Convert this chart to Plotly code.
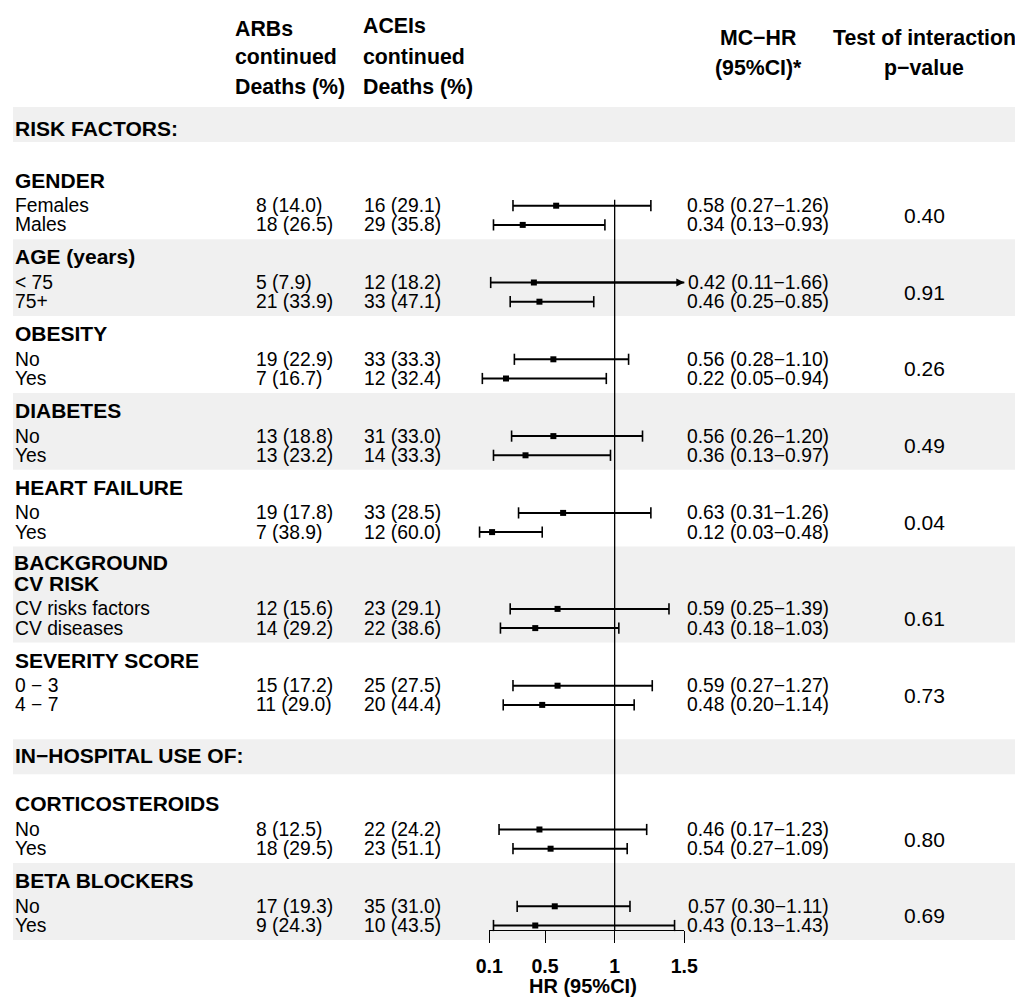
import plotly.graph_objects as go

# ---------------- data ----------------
section_titles = ["RISK FACTORS:", "IN\u2212HOSPITAL USE OF:"]
group_titles = [["GENDER"], ["AGE (years)"], ["OBESITY"], ["DIABETES"], ["HEART FAILURE"],
                ["BACKGROUND", "CV RISK"], ["SEVERITY SCORE"], ["CORTICOSTEROIDS"], ["BETA BLOCKERS"]]
group_section = [0, 0, 0, 0, 0, 0, 0, 1, 1]
subgroups = [["Females", "Males"], ["&lt; 75", "75+"], ["No", "Yes"], ["No", "Yes"], ["No", "Yes"],
             ["CV risks factors", "CV diseases"], ["0 \u2212 3", "4 \u2212 7"], ["No", "Yes"], ["No", "Yes"]]
arb_deaths = [[8, 18], [5, 21], [19, 7], [13, 13], [19, 7], [12, 14], [15, 11], [8, 18], [17, 9]]
arb_pct = [[14.0, 26.5], [7.9, 33.9], [22.9, 16.7], [18.8, 23.2], [17.8, 38.9], [15.6, 29.2],
           [17.2, 29.0], [12.5, 29.5], [19.3, 24.3]]
acei_deaths = [[16, 29], [12, 33], [33, 12], [31, 14], [33, 12], [23, 22], [25, 20], [22, 23], [35, 10]]
acei_pct = [[29.1, 35.8], [18.2, 47.1], [33.3, 32.4], [33.0, 33.3], [28.5, 60.0], [29.1, 38.6],
            [27.5, 44.4], [24.2, 51.1], [31.0, 43.5]]
hr = [[0.58, 0.34], [0.42, 0.46], [0.56, 0.22], [0.56, 0.36], [0.63, 0.12], [0.59, 0.43],
      [0.59, 0.48], [0.46, 0.54], [0.57, 0.43]]
hr_lo = [[0.27, 0.13], [0.11, 0.25], [0.28, 0.05], [0.26, 0.13], [0.31, 0.03], [0.25, 0.18],
         [0.27, 0.20], [0.17, 0.27], [0.30, 0.13]]
hr_hi = [[1.26, 0.93], [1.66, 0.85], [1.10, 0.94], [1.20, 0.97], [1.26, 0.48], [1.39, 1.03],
         [1.27, 1.14], [1.23, 1.09], [1.11, 1.43]]
p_interaction = ["0.40", "0.91", "0.26", "0.49", "0.04", "0.61", "0.73", "0.80", "0.69"]
x_ticks = [0.1, 0.5, 1, 1.5]
x_tick_labels = ["0.1", "0.5", "1", "1.5"]
axis_title = "HR (95%CI)"
header_arb = ["ARBs", "continued", "Deaths (%)"]
header_acei = ["ACEIs", "continued", "Deaths (%)"]
header_hr = ["MC\u2212HR", "(95%CI)*"]
header_p = ["Test of interaction", "p\u2212value"]

# ---------------- layout constants (screen pixels) ----------------
SCREEN_W, SCREEN_H = 1023, 998
BODY = 8                                # default page margin around the figure
W, H = SCREEN_W - BODY, SCREEN_H - BODY  # figure size
FONT = "Liberation Sans, Arial, Helvetica, sans-serif"
ROW = 19.2
X_LABEL, X_ARB, X_ACEI, X_HR, X_P = 13, 254, 362, 758, 924
X_HDR_ARB, X_HDR_ACEI = 233, 361
AX_PX0, AX_PX1 = 489.3, 684.3          # screen pixel position of 0.1 and 1.5
AX_MIN, AX_MAX = x_ticks[0], x_ticks[-1]
PX_PER = (AX_PX1 - AX_PX0) / (AX_MAX - AX_MIN)
XR = [AX_MIN - (AX_PX0 - BODY) / PX_PER, AX_MIN + (SCREEN_W - AX_PX0) / PX_PER]
AXIS_Y = 930
GREY = "#f0f0f0"

fs_data, fs_p, fs_head, fs_hdr, fs_tick = 19.3, 21, 21, 21.3, 19.5

shapes, annotations = [], []


def px(x):
    return (x - BODY) / W


def txt(x, y, s, size=fs_data, bold=False, align="left", box_h=None):
    ann = dict(
        xref="paper", yref="y", x=px(x), y=y, text=f"<b>{s}</b>" if bold else s,
        showarrow=False, xanchor=align, yanchor="middle",
        font=dict(family=FONT, size=size, color="black"))
    if box_h is not None:
        ann["height"] = box_h
        ann["borderpad"] = 0
    annotations.append(ann)


def band(y0, y1):
    shapes.append(dict(type="rect", xref="paper", yref="y", x0=px(X_LABEL), x1=1,
                       y0=y0, y1=y1, fillcolor=GREY, line=dict(width=0), layer="below"))


# header
for i, s in enumerate(header_arb):
    txt(X_HDR_ARB, [29, 57, 87][i], s, fs_hdr, True)
for i, s in enumerate(header_acei):
    txt(X_HDR_ACEI, [26, 57, 87][i], s, fs_hdr, True)
for i, s in enumerate(header_hr):
    txt(X_HR, [38, 68][i], s, fs_hdr, True, "center")
for i, s in enumerate(header_p):
    txt(X_P, [38, 68][i], s, fs_hdr, True, "center")

# body layout
section_gap_after = [20.5, 12]
gap_before_section = 20
y = 107
current_section = -1
grey = False
ci_x, ci_y, cap_x, cap_y, arrows = [], [], [], [], []
sq_x, sq_y = [], []
vline_top = None

for g in range(len(group_titles)):
    if group_section[g] != current_section:
        current_section = group_section[g]
        if current_section > 0:
            y += gap_before_section
        y0 = y
        y1 = y0 + 35
        band(y0, y1)
        txt(X_LABEL, y0 + (21 if current_section == 0 else 16), section_titles[current_section], fs_head, True)
        y = y1 + section_gap_after[current_section]
        grey = False
    n = len(group_titles[g])
    top = y
    height = (3 + n) * ROW
    if grey:
        band(top, top + height)
    first_line = top + 17.5 - 2 * (n - 1)
    for k, line in enumerate(group_titles[g]):
        txt(X_LABEL, first_line + k * 21, line, fs_head, True, box_h=(20 if n > 1 else None))
    ys = []
    for r in range(2):
        yr = top + 43.2 + (n - 1) * ROW + r * ROW
        ys.append(yr)
        txt(X_LABEL, yr, subgroups[g][r])
        txt(X_ARB, yr, f"{arb_deaths[g][r]} ({arb_pct[g][r]:.1f})")
        txt(X_ACEI, yr, f"{acei_deaths[g][r]} ({acei_pct[g][r]:.1f})")
        txt(X_HR, yr, f"{hr[g][r]:.2f} ({hr_lo[g][r]:.2f}\u2212{hr_hi[g][r]:.2f})", align="center")
        lo, hi, h = hr_lo[g][r], hr_hi[g][r], hr[g][r]
        ci_x += [lo, min(hi, AX_MAX), None]
        ci_y += [yr, yr, None]
        cap_x.append(lo); cap_y.append(yr)
        if hi <= AX_MAX:
            cap_x.append(hi); cap_y.append(yr)
        else:
            arrows.append((h, yr))
        sq_x.append(h); sq_y.append(yr)
        if vline_top is None:
            vline_top = yr - 6
    txt(X_P, sum(ys) / 2, p_interaction[g], fs_p, align="center")
    y = top + height
    grey = not grey

fig = go.Figure()
fig.add_trace(go.Scatter(x=ci_x, y=ci_y, mode="lines", line=dict(color="black", width=2),
                         xaxis="x", yaxis="y", hoverinfo="skip", showlegend=False))
fig.add_trace(go.Scatter(x=cap_x, y=cap_y, mode="markers",
                         marker=dict(symbol="line-ns", size=8, line=dict(color="black", width=1.6)),
                         xaxis="x", yaxis="y", hoverinfo="skip", showlegend=False))
fig.add_trace(go.Scatter(x=sq_x, y=sq_y, mode="markers",
                         marker=dict(symbol="square", size=6, color="black", line=dict(width=0)),
                         xaxis="x", yaxis="y", hoverinfo="skip", showlegend=False))
fig.add_trace(go.Scatter(x=[1, 1], y=[vline_top, AXIS_Y], mode="lines",
                         line=dict(color="black", width=1.3),
                         xaxis="x2", yaxis="y", hoverinfo="skip", showlegend=False))

for h, yr in arrows:
    annotations.append(dict(xref="x", yref="y", x=AX_MAX, y=yr, axref="x", ayref="y",
                            ax=h, ay=yr, text="", showarrow=True, arrowhead=2,
                            arrowsize=0.8, arrowwidth=2, arrowcolor="black", standoff=0))

annotations.append(dict(xref="paper", yref="y", x=px(583), y=986, text=f"<b>{axis_title}</b>",
                        showarrow=False, xanchor="center", yanchor="middle",
                        font=dict(family=FONT, size=20, color="black")))

fig.update_layout(
    width=W, height=H, margin=dict(l=0, r=0, t=0, b=0, autoexpand=False),
    paper_bgcolor="white", plot_bgcolor="rgba(0,0,0,0)",
    showlegend=False,
    xaxis=dict(domain=[0, 1], range=XR, visible=False, fixedrange=True),
    yaxis=dict(domain=[0, 1], range=[SCREEN_H, BODY], visible=False, fixedrange=True),
    xaxis2=dict(domain=[px(AX_PX0), px(AX_PX1)], range=[AX_MIN, AX_MAX], anchor="free",
                position=(SCREEN_H - AXIS_Y) / H, showline=True, linecolor="black", linewidth=1.3,
                ticks="outside", ticklen=12, tickwidth=1.3, tickcolor="black",
                tickvals=x_ticks, ticktext=[f"<b>{t}</b>" for t in x_tick_labels],
                tickfont=dict(family=FONT, size=fs_tick, color="black"), ticklabelstandoff=6,
                showgrid=False, zeroline=False, fixedrange=True),
    shapes=shapes, annotations=annotations,
)

fig.write_html("out.html")
